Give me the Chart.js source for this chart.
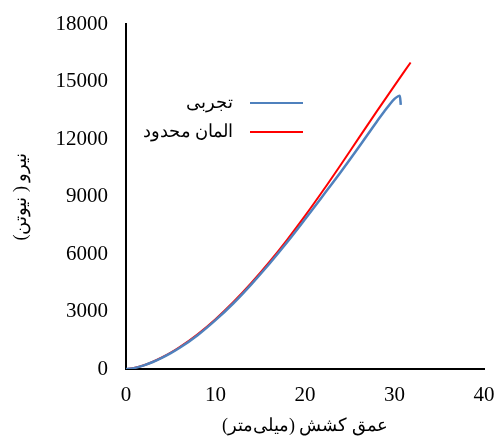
<!DOCTYPE html>
<html>
<head>
<meta charset="utf-8">
<script src="https://cdn.jsdelivr.net/npm/chart.js@4"></script>
<style>
body { margin: 0; background: #fff; }
#wrap { width: 495px; height: 437px; }
</style>
</head>
<body>
<div id="wrap"><canvas id="myChart" width="495" height="437"></canvas></div>
<script>
// داده‌ها
const seriesNames = ['تجربی', 'المان محدود']
const expX = [0, 1, 2, 3, 4, 5, 6, 8, 10, 12, 14, 16, 18, 20, 22, 24, 26, 28, 29, 29.5, 30, 30.4, 30.6, 30.7]
const expY = [0, 60, 190, 365, 580, 825, 1105, 1765, 2550, 3430, 4420, 5480, 6610, 7810, 9040, 10280, 11570, 12890, 13520, 13830, 14090, 14230, 14260, 13780]
const femX = [0, 1, 2, 3, 4, 5, 6, 8, 10, 12, 14, 16, 18, 20, 22, 24, 26, 28, 30, 31.8]
const femY = [0, 65, 198, 379, 600, 855, 1144, 1814, 2602, 3496, 4490, 5574, 6744, 7988, 9298, 10658, 12048, 13428, 14788, 15994]
const xTitle = 'عمق کشش (میلی‌متر)'
const yTitle = 'نیرو ( نیوتن)'

const serif = "'Liberation Serif', 'DejaVu Serif', serif"

const legendInside = {
	id: 'legendInside',
	afterDatasetsDraw(chart) {
		const ctx = chart.ctx
		ctx.save()
		chart.data.datasets.forEach((ds, i) => {
			const y = 103 + 29 * i
			ctx.strokeStyle = ds.borderColor
			ctx.lineWidth = 2
			ctx.beginPath()
			ctx.moveTo(250, y)
			ctx.lineTo(303, y)
			ctx.stroke()
			ctx.fillStyle = '#000'
			ctx.font = "18px " + serif
			ctx.textAlign = 'right'
			ctx.textBaseline = 'middle'
			ctx.direction = 'rtl'
			ctx.fillText(ds.label, 233, y)
		})
		ctx.restore()
	}
}

const toPts = (xs, ys) => xs.map((x, i) => ({x: x, y: ys[i]}))

// حذف فاصله خودکار برچسب‌ها تا ناحیه نمودار ثابت بماند
const noPad = s => { s.paddingTop = 0; s.paddingBottom = 0; s.paddingLeft = 0; s.paddingRight = 0 }

const context = document.getElementById('myChart')
const config = {
	type: 'line',
	data: {
		datasets: [
			{
				label: seriesNames[0],
				data: toPts(expX, expY),
				borderColor: '#4f81bd',
				borderWidth: 2.5,
				pointRadius: 0,
				cubicInterpolationMode: 'monotone'
			},
			{
				label: seriesNames[1],
				data: toPts(femX, femY),
				borderColor: '#ff0000',
				borderWidth: 2,
				pointRadius: 0,
				cubicInterpolationMode: 'monotone'
			}
		]
	},
	options: {
		responsive: false,
		animation: false,
		layout: { autoPadding: false, padding: { top: 24, right: 11, left: 0, bottom: 0 } },
		plugins: { legend: { display: false }, tooltip: { enabled: false } },
		scales: {
			x: {
				type: 'linear',
				min: 0, max: 40,
				ticks: { stepSize: 10, color: '#000', padding: 14, font: { family: serif, size: 21 }, callback: v => v },
				grid: { display: false, drawTicks: false },
				border: { color: '#000', width: 2 },
				title: { display: true, text: xTitle, color: '#000', padding: { top: 12, bottom: 0 }, font: { family: serif, size: 18 } },
				afterFit: s => { s.height = 68; noPad(s) }
			},
			y: {
				min: 0, max: 18000,
				ticks: { stepSize: 3000, color: '#000', padding: 18, font: { family: serif, size: 21 }, callback: v => v },
				grid: { display: false, drawTicks: false },
				border: { color: '#000', width: 2 },
				title: { display: true, text: yTitle, color: '#000', padding: { top: 10, bottom: 0 }, font: { family: serif, size: 18 } },
				afterFit: s => { s.width = 126; noPad(s) }
			}
		}
	},
	plugins: [legendInside]
}
const myChart = new Chart(context, config)
</script>
</body>
</html>
